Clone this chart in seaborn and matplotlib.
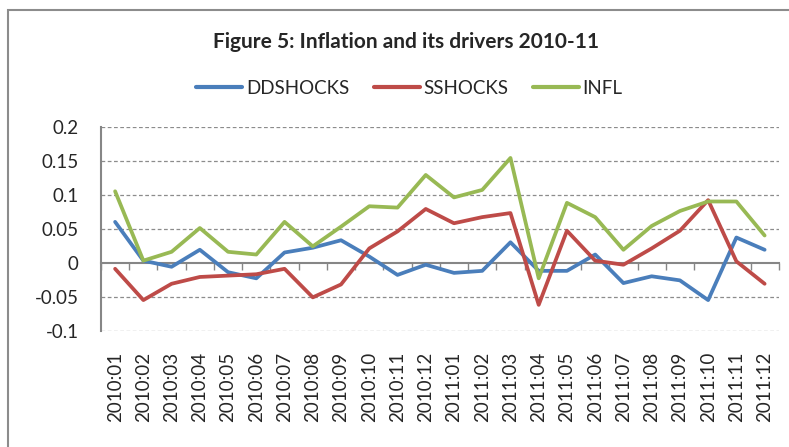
import numpy as np
import pandas as pd
import matplotlib
matplotlib.use("Agg")
import matplotlib.pyplot as plt
import seaborn as sns
from matplotlib.patches import Rectangle

months = ["2010:01", "2010:02", "2010:03", "2010:04", "2010:05", "2010:06",
          "2010:07", "2010:08", "2010:09", "2010:10", "2010:11", "2010:12",
          "2011:01", "2011:02", "2011:03", "2011:04", "2011:05", "2011:06",
          "2011:07", "2011:08", "2011:09", "2011:10", "2011:11", "2011:12"]

ddshocks = [0.060, 0.003, -0.006, 0.019, -0.014, -0.023, 0.015, 0.022, 0.033, 0.009, -0.018, -0.003,
            -0.015, -0.012, 0.030, -0.012, -0.012, 0.012, -0.030, -0.020, -0.026, -0.055, 0.037, 0.019]
sshocks = [-0.009, -0.055, -0.031, -0.021, -0.019, -0.017, -0.009, -0.051, -0.032, 0.021, 0.046, 0.079,
           0.058, 0.067, 0.073, -0.062, 0.047, 0.003, -0.003, 0.021, 0.047, 0.092, 0.002, -0.031]
infl = [0.105, 0.003, 0.016, 0.051, 0.016, 0.012, 0.060, 0.024, 0.053, 0.083, 0.081, 0.129,
        0.096, 0.107, 0.154, -0.023, 0.088, 0.067, 0.019, 0.054, 0.076, 0.090, 0.090, 0.040]

series_names = ["DDSHOCKS", "SSHOCKS", "INFL"]
colors = ["#4A7EBB", "#BE4B48", "#98B954"]
yticks = [-0.1, -0.05, 0, 0.05, 0.1, 0.15, 0.2]

# long format for seaborn
df = pd.DataFrame({"idx": np.arange(len(months)), "DDSHOCKS": ddshocks,
                   "SSHOCKS": sshocks, "INFL": infl})
long_df = df.melt(id_vars="idx", var_name="series", value_name="value")

sns.set_style("white")
plt.rcParams["font.family"] = ["Lato", "DejaVu Sans"]
plt.rcParams["axes.unicode_minus"] = False

fig = plt.figure(figsize=(7.89, 4.47), dpi=100)
ax = fig.add_axes([0.128, 0.2602, 0.859, 0.4564])

sns.lineplot(data=long_df, x="idx", y="value", hue="series", hue_order=series_names,
             palette=colors, linewidth=2.7, ax=ax, legend=False)

ax.set_xlim(-0.5, len(months) - 0.5)
ax.set_ylim(-0.1, 0.2)
ax.set_yticks(yticks)
ax.set_yticklabels([f"{v:g}" for v in yticks], fontsize=13.5)
ax.set_xticks(np.arange(len(months)))
ax.set_xticklabels(months, rotation=90, fontsize=13.5)
ax.tick_params(axis="x", length=0, pad=15)
ax.tick_params(axis="y", length=5, width=1, color="#868686", pad=11)
ax.set_xlabel("")
ax.set_ylabel("")

# dashed gridlines except the zero line
for v in yticks:
    if v != 0:
        ax.axhline(v, color="#8c8c8c", lw=0.9, ls=(0, (3, 2)), zorder=0)

for s in ["top", "right", "bottom"]:
    ax.spines[s].set_visible(False)
ax.spines["left"].set_color("#868686")
ax.spines["left"].set_linewidth(1.5)

# category axis crosses at zero
sec = ax.secondary_xaxis(1 / 3)
sec.set_xticks(np.arange(len(months) + 1) - 0.5)
sec.set_xticklabels([])
sec.tick_params(length=5, width=1, color="#868686", direction="out")
sec.spines["bottom"].set_color("#868686")
sec.spines["bottom"].set_linewidth(1.5)

handles = [plt.Line2D([], [], color=c, lw=3) for c in colors]
ax.legend(handles, series_names, loc="center", bbox_to_anchor=(0.519, 0.803),
          bbox_transform=fig.transFigure, ncol=3, frameon=False, fontsize=13.5,
          handlelength=2.45, handletextpad=0.2, columnspacing=1.3)

fig.text(0.514, 0.906, "Figure 5: Inflation and its drivers 2010-11", ha="center",
         va="center", fontsize=15, fontweight="bold")

fig.patches.append(Rectangle((8 / 789, -0.5), 2, 0.5 + 1 - 10 / 447, transform=fig.transFigure,
                             fill=False, edgecolor="#8c8c8c", lw=1.5))

fig.savefig("out.png", dpi=100)
